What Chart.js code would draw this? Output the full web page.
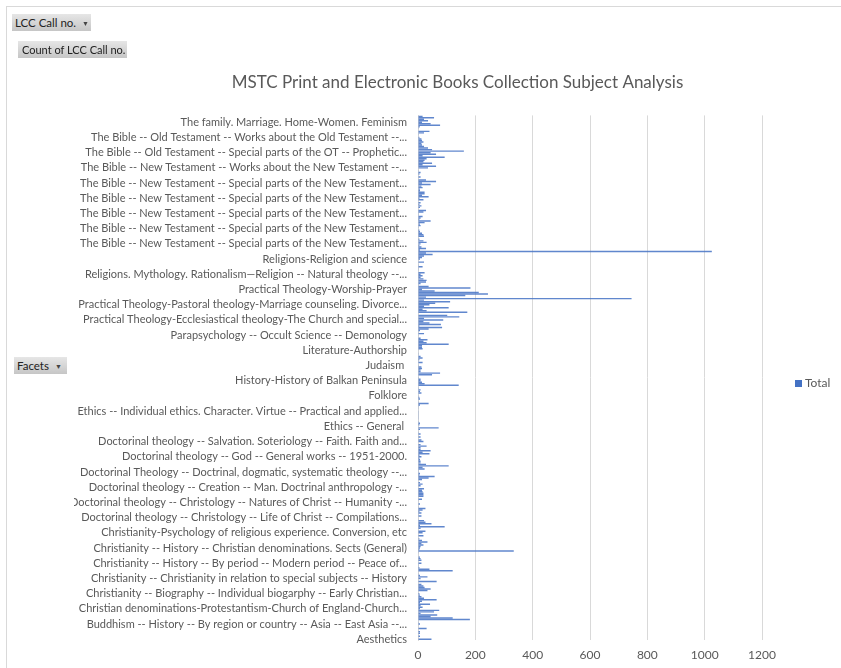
<!DOCTYPE html>
<html>
<head>
<meta charset="utf-8">
<script src="https://cdn.jsdelivr.net/npm/chart.js@4.4.1/dist/chart.umd.min.js"></script>
<style>
  html, body { margin: 0; padding: 0; background: #fff; }
  body { width: 841px; height: 668px; position: relative; overflow: hidden; font-family: Lato, 'Open Sans', sans-serif; }
  .frame { position: absolute; left: 6px; top: 6px; width: 900px; height: 700px; border-left: 1px solid #d9d9d9; border-top: 1px solid #d9d9d9; }
  .pbtn { position: absolute; height: 17px; line-height: 17px; font-size: 11.5px; color: #222; padding: 0 3px;
          background: linear-gradient(#e6e6e6, #c6c6c6); box-sizing: border-box; white-space: nowrap; }
  .pbtn .arr { font-size: 7px; color: #444; margin-left: 6px; position: relative; top: -1px; }
  #wrap { position: absolute; left: 0; top: 0; width: 841px; height: 668px; }
  .legend { position: absolute; left: 795px; top: 375px; font-size: 12px; color: #595959; }
  .legend i { display: inline-block; width: 7px; height: 7px; background: #4472C4; margin-right: 3px; }
</style>
</head>
<body>
<div class="frame"></div>
<div id="wrap"><canvas id="cv"></canvas></div>
<div class="pbtn" style="left:12px;top:14px;width:79px;">LCC Call no.<span class="arr">&#9660;</span></div>
<div class="pbtn" style="left:18px;top:41px;width:109px;padding-left:4px;font-size:11px;">Count of LCC Call no.</div>
<div class="pbtn" style="left:14px;top:357px;width:53px;">Facets<span class="arr">&#9660;</span></div>
<div class="legend"><i></i>Total</div>
<script>
  // Facet names shown on the axis (every 10th category), top to bottom
  const shownFacets = [
    'The family. Marriage. Home-Women. Feminism',
    'The Bible -- Old Testament -- Works about the Old Testament --...',
    'The Bible -- Old Testament -- Special parts of the OT -- Prophetic...',
    'The Bible -- New Testament -- Works about the New Testament --...',
    'The Bible -- New Testament -- Special parts of the New Testament...',
    'The Bible -- New Testament -- Special parts of the New Testament...',
    'The Bible -- New Testament -- Special parts of the New Testament...',
    'The Bible -- New Testament -- Special parts of the New Testament...',
    'The Bible -- New Testament -- Special parts of the New Testament...',
    'Religions-Religion and science',
    'Religions. Mythology. Rationalism\u2014Religion -- Natural theology --...',
    'Practical Theology-Worship-Prayer',
    'Practical Theology-Pastoral theology-Marriage counseling. Divorce...',
    'Practical Theology-Ecclesiastical theology-The Church and special...',
    'Parapsychology -- Occult Science -- Demonology',
    'Literature-Authorship',
    'Judaism ',
    'History-History of Balkan Peninsula',
    'Folklore',
    'Ethics -- Individual ethics. Character. Virtue -- Practical and applied...',
    'Ethics -- General ',
    'Doctorinal theology -- Salvation. Soteriology -- Faith. Faith and...',
    'Doctorinal theology -- God -- General works -- 1951-2000.',
    'Doctorinal Theology -- Doctrinal, dogmatic, systematic theology --...',
    'Doctorinal theology -- Creation -- Man. Doctrinal anthropology -...',
    'Doctorinal theology -- Christology -- Natures of Christ -- Humanity -...',
    'Doctorinal theology -- Christology -- Life of Christ -- Compilations...',
    'Christianity-Psychology of religious experience. Conversion, etc',
    'Christianity -- History -- Christian denominations. Sects (General)',
    'Christianity -- History -- By period -- Modern period -- Peace of...',
    'Christianity -- Christianity in relation to special subjects -- History',
    'Christianity -- Biography -- Individual biogarphy -- Early Christian...',
    'Christian denominations-Protestantism-Church of England-Church...',
    'Buddhism -- History -- By region or country -- Asia -- East Asia --...',
    'Aesthetics'
  ];

  // Count of LCC Call no. per facet, read top to bottom in five blocks
  const countsBibleFamily = [16,56,21,35,14,44,77,6,1,2, 40,21,1,2,5,12,14,19,12,14,
    21,35,49,160,44,63,16,93,30,23, 19,49,16,63,35,2,1,9,5,2, 9,2,28,63,14,44,12,16,7,7,
    23,23,14,37,5,19,2,9,5,12, 7,2,28,19,1,1,16,9];
  const countsReligionPractical = [5,44,23,7,9,1,2,5,7,14, 19,21,2,5,19,30,9,5,12,28, 7,1025,
    28,51,21,14,7,2,21,2,1,16, 1,1,2,23,9,16,9,19,30,28, 9,1,37,183,14,58,212,244,165,28, 745,
    21,112,60,40,21,107,16,30,172,2,102,144,21,88,19,40,80,5];
  const countsParapsychEthics = [84,37,7,1,21,1,2,9,33,19, 30,107,14,14,16,2,2,1,1,9,
    16,5,1,16,2,1,12,14,9,9, 77,49,2,1,9,9,14,23,142,2, 1,9,7,12,2,1,5,7,2,1,
    37,7,1,1,2,1,1,1,1,1, 1,2,1,7,5,2,72,7,2,1];
  const countsDoctrinal = [9,2,9,2,12,19,2,9,30,9, 9,44,16,40,5,12,5,7,9,9, 28,107,16,23,1,1,7,5,58,37,
    14,2,7,16,9,2,21,14,16,19, 19,19,2,14,1,2,7,2,1,26, 16,5,12,1,12,2,1,21,26,47, 7,93,9,2,26,16,2,19,2,5];
  const countsChristianity = [14,33,12,19,9,7,5,334,1,2, 2,7,9,12,2,12,1,1,5,40, 121,2,1,7,33,9,2,65,2,12,
    19,23,44,33,2,5,7,12,21,65, 14,7,42,9,16,7,74,56,9,67, 44,121,181,2,1,7,2,2,30,2, 7,7,2,7,2,47];

  const xTicks = [0, 200, 400, 600, 800, 1000, 1200];
  const labelEvery = 10;

  const counts = [].concat(countsBibleFamily, countsReligionPractical, countsParapsychEthics,
    countsDoctrinal, countsChristianity);
  const n = counts.length;
  // every 10th facet (counted from the bottom) carries its name on the axis
  const categories = counts.map((_, j) => {
    const fromBottom = n - 1 - j;
    if (fromBottom % labelEvery !== 0) return '';
    return shownFacets[shownFacets.length - 1 - fromBottom / labelEvery] || '';
  });

  const FONT = 'Lato, "Open Sans", sans-serif';
  new Chart(document.getElementById('cv'), {
    type: 'bar',
    data: {
      labels: categories,
      datasets: [{ label: 'Total', data: counts, backgroundColor: 'rgba(68,114,196,0.85)',
        barPercentage: 0.95, categoryPercentage: 1 }]
    },
    options: {
      indexAxis: 'y',
      responsive: true, maintainAspectRatio: false, animation: false,
      layout: { padding: { left: 74, right: 0, top: 0, bottom: 0 } },
      plugins: {
        legend: { display: false },
        tooltip: { enabled: false },
        title: {
          display: true,
          text: 'MSTC Print and Electronic Books Collection Subject Analysis',
          color: '#595959',
          font: { family: FONT, size: 17, weight: 'normal' },
          padding: { top: 72, bottom: 23 }
        }
      },
      scales: {
        x: {
          min: xTicks[0], max: xTicks[xTicks.length - 1],
          afterBuildTicks: (s) => { s.ticks = xTicks.map((v) => ({ value: v })); },
          afterFit: (s) => { s.height = 28; },
          grid: { color: '#d9d9d9', drawTicks: false },
          border: { display: false },
          ticks: { color: '#595959', padding: 8, font: { family: FONT, size: 12 },
            callback: (v) => String(v) }
        },
        y: {
          afterFit: (s) => { s.width = 344; },
          grid: { display: false, drawTicks: false },
          border: { display: true, color: '#d9d9d9' },
          ticks: { autoSkip: false, color: '#595959', padding: 11, font: { family: FONT, size: 11 } }
        },
        // empty strip on the right that leaves room for the legend
        side: {
          type: 'linear', position: 'right', display: true,
          afterFit: (s) => { s.width = 79; },
          grid: { display: false, drawTicks: false },
          border: { display: false },
          ticks: { display: false }
        }
      }
    }
  });
</script>
</body>
</html>
